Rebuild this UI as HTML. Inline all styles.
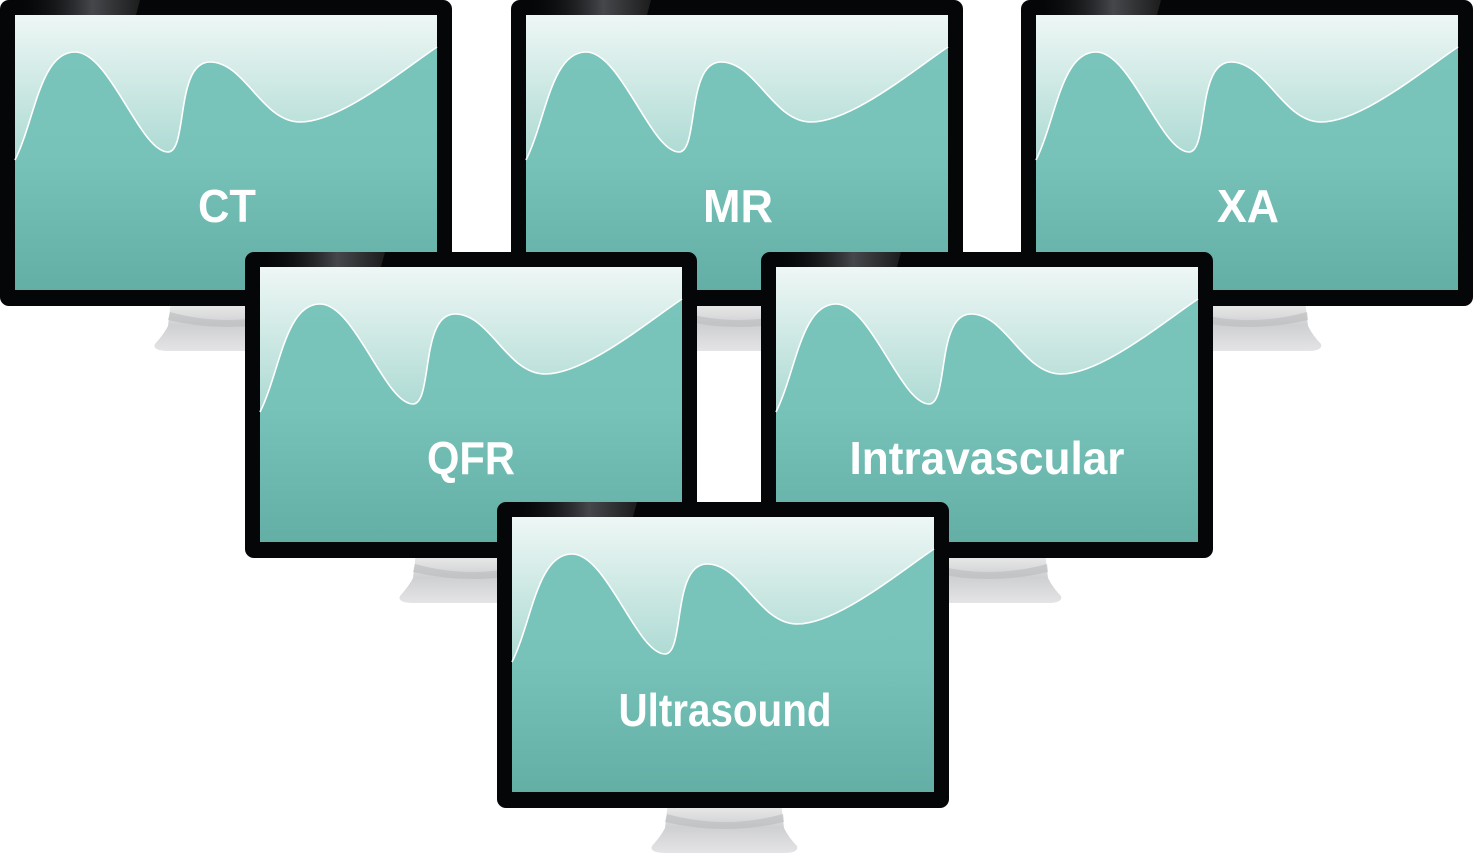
<!DOCTYPE html>
<html><head><meta charset="utf-8"><style>
html,body{margin:0;padding:0;background:#fff;width:1474px;height:854px;overflow:hidden}
svg{display:block}
text{font-family:"Liberation Sans",Arial,sans-serif;font-weight:bold;fill:#fff;font-size:46px}
</style></head><body>
<svg width="1474" height="854" viewBox="0 0 1474 854" xmlns="http://www.w3.org/2000/svg">
<defs>
<linearGradient id="bg" x1="0" y1="0" x2="0" y2="1">
<stop offset="0" stop-color="#eef7f5"/><stop offset="0.55" stop-color="#a9d8d1"/><stop offset="1" stop-color="#8ccbc2"/>
</linearGradient>
<linearGradient id="wf" x1="0" y1="0" x2="0" y2="1">
<stop offset="0" stop-color="#79c5bb"/><stop offset="0.45" stop-color="#77c3b9"/><stop offset="1" stop-color="#63afa6"/>
</linearGradient>
<linearGradient id="st" x1="0" y1="0" x2="0" y2="1">
<stop offset="0" stop-color="#eeeeee"/><stop offset="0.5" stop-color="#cfd0d2"/><stop offset="1" stop-color="#e4e4e6"/>
</linearGradient>
<linearGradient id="gl" x1="0" y1="0" x2="1" y2="0">
<stop offset="0" stop-color="#111" stop-opacity="0"/><stop offset="0.6" stop-color="#55585c"/><stop offset="1" stop-color="#222"/>
</linearGradient>
<symbol id="mon" width="452" height="352" viewBox="0 0 452 352">
<path d="M171 300 L284 300 L287 326 Q292 336 300 344 Q302 350 290 351 L166 351 Q152 350 155 344 Q164 334 168 326 Z" fill="url(#st)"/>
<path d="M170 312 Q228 328 286 312 L287 320 Q228 334 168 320 Z" fill="#b9babd" opacity="0.6"/>
<rect x="0" y="0" width="452" height="306" rx="9" fill="#050608"/>
<path d="M20 0 L140 0 L136 15 L20 15 Z" fill="url(#gl)" opacity="0.8"/>
<rect x="15" y="15" width="422" height="275" fill="url(#bg)"/>
<path d="M15 160 C35 120 40 52 75 52 C110 52 140 152 168 152 C188 152 175 62 210 62 C245 62 262 122 300 122 C340 122 400 72 437 47 L437 290 L15 290 Z" fill="url(#wf)"/>
<path d="M15 160 C35 120 40 52 75 52 C110 52 140 152 168 152 C188 152 175 62 210 62 C245 62 262 122 300 122 C340 122 400 72 437 47" fill="none" stroke="#fff" stroke-width="1.6"/>
</symbol>
</defs>
<g transform="translate(0,0)"><use href="#mon" width="452" height="352"/><text x="227" y="222" text-anchor="middle" textLength="58" lengthAdjust="spacingAndGlyphs">CT</text></g>
<g transform="translate(511,0)"><use href="#mon" width="452" height="352"/><text x="227" y="222" text-anchor="middle" textLength="70" lengthAdjust="spacingAndGlyphs">MR</text></g>
<g transform="translate(1021,0)"><use href="#mon" width="452" height="352"/><text x="227" y="222" text-anchor="middle" textLength="62" lengthAdjust="spacingAndGlyphs">XA</text></g>
<g transform="translate(245,252)"><use href="#mon" width="452" height="352"/><text x="226" y="222" text-anchor="middle" textLength="88" lengthAdjust="spacingAndGlyphs">QFR</text></g>
<g transform="translate(761,252)"><use href="#mon" width="452" height="352"/><text x="226" y="222" text-anchor="middle" textLength="275" lengthAdjust="spacingAndGlyphs">Intravascular</text></g>
<g transform="translate(497,502)"><use href="#mon" width="452" height="352"/><text x="228" y="224" text-anchor="middle" textLength="213" lengthAdjust="spacingAndGlyphs">Ultrasound</text></g>
</svg>
</body></html>
